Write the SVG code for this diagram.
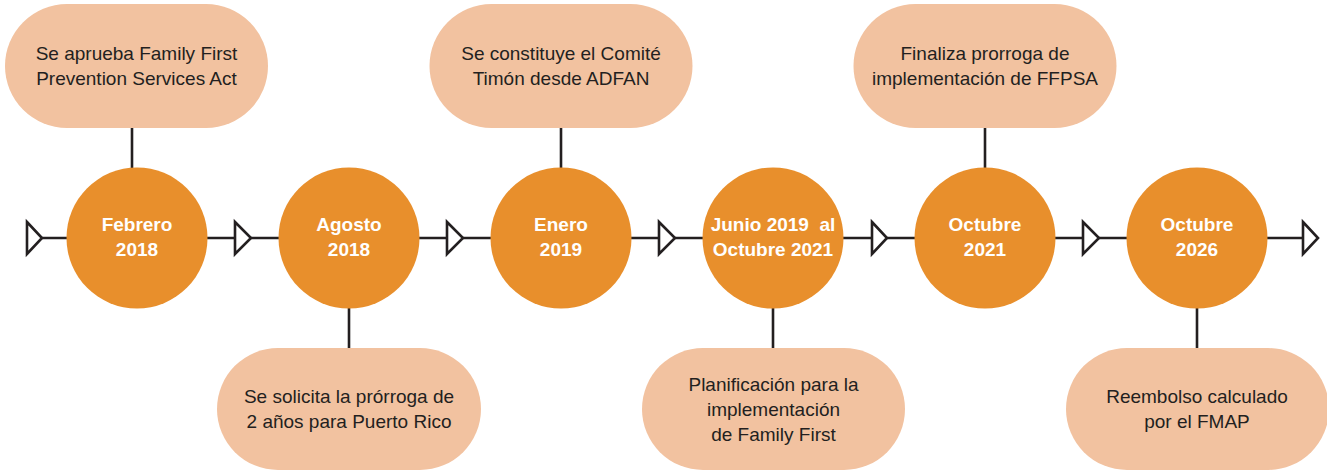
<svg xmlns="http://www.w3.org/2000/svg" width="1327" height="471" viewBox="0 0 1327 471">
<style>
.box{fill:#F2C2A0}
.circ{fill:#E88F2C}
.ln{stroke:#231F20;stroke-width:2.6;fill:none}
.tri{fill:#fff;stroke:#231F20;stroke-width:2.6;stroke-linejoin:miter}
.bt{font-family:"Liberation Sans",Arial,sans-serif;font-size:19px;fill:#231F20;text-anchor:middle}
.ct{font-family:"Liberation Sans",Arial,sans-serif;font-size:19px;font-weight:bold;fill:#fff;text-anchor:middle}
</style>
<rect width="1327" height="471" fill="#fff"/>
<g id="connectors">
<line class="ln" x1="42" y1="238" x2="1303" y2="238"/>
<line class="ln" x1="132" y1="128" x2="132" y2="170"/>
<line class="ln" x1="561" y1="128" x2="561" y2="170"/>
<line class="ln" x1="985" y1="128" x2="985" y2="170"/>
<line class="ln" x1="349" y1="305" x2="349" y2="348"/>
<line class="ln" x1="773" y1="305" x2="773" y2="348"/>
<line class="ln" x1="1197" y1="305" x2="1197" y2="348"/>
<polygon class="tri" points="27,222 42,238 27,254"/>
<polygon class="tri" points="235,222 251,238 235,254"/>
<polygon class="tri" points="447,222 463,238 447,254"/>
<polygon class="tri" points="659,222 675,238 659,254"/>
<polygon class="tri" points="872,222 887,238 872,254"/>
<polygon class="tri" points="1083,222 1099,238 1083,254"/>
<polygon class="tri" points="1303,222 1318,238 1303,254"/>
</g>
<g id="c1"><circle class="circ" cx="137" cy="238" r="70.5"/><text class="ct" x="137" y="231">Febrero</text><text class="ct" x="137" y="256">2018</text></g>
<g id="c2"><circle class="circ" cx="349" cy="238" r="70.5"/><text class="ct" x="349" y="231">Agosto</text><text class="ct" x="349" y="256">2018</text></g>
<g id="c3"><circle class="circ" cx="561" cy="238" r="70.5"/><text class="ct" x="561" y="231">Enero</text><text class="ct" x="561" y="256">2019</text></g>
<g id="c4"><circle class="circ" cx="773" cy="238" r="70.5"/><text class="ct" x="773" y="231" xml:space="preserve">Junio 2019  al</text><text class="ct" x="773" y="256">Octubre 2021</text></g>
<g id="c5"><circle class="circ" cx="985" cy="238" r="70.5"/><text class="ct" x="985" y="231">Octubre</text><text class="ct" x="985" y="256">2021</text></g>
<g id="c6"><circle class="circ" cx="1197" cy="238" r="70.5"/><text class="ct" x="1197" y="231">Octubre</text><text class="ct" x="1197" y="256">2026</text></g>
<g id="b1"><rect class="box" x="5" y="4" width="263" height="124" rx="62"/><text class="bt" x="136.5" y="60">Se aprueba Family First</text><text class="bt" x="136.5" y="85">Prevention Services Act</text></g>
<g id="b3"><rect class="box" x="429.5" y="4" width="263" height="124" rx="62"/><text class="bt" x="561" y="60">Se constituye el Comité</text><text class="bt" x="561" y="85">Timón desde ADFAN</text></g>
<g id="b5"><rect class="box" x="853.5" y="4" width="263" height="124" rx="62"/><text class="bt" x="985" y="60">Finaliza prorroga de</text><text class="bt" x="985" y="85">implementación de FFPSA</text></g>
<g id="b2"><rect class="box" x="217" y="348" width="264" height="122" rx="61"/><text class="bt" x="349" y="403">Se solicita la prórroga de</text><text class="bt" x="349" y="428">2 años para Puerto Rico</text></g>
<g id="b4"><rect class="box" x="642" y="348" width="263" height="122" rx="61"/><text class="bt" x="773.5" y="391">Planificación para la</text><text class="bt" x="773.5" y="416">implementación</text><text class="bt" x="773.5" y="441">de Family First</text></g>
<g id="b6"><rect class="box" x="1066" y="348" width="263" height="122" rx="61"/><text class="bt" x="1197" y="403">Reembolso calculado</text><text class="bt" x="1197" y="428">por el FMAP</text></g>
</svg>
